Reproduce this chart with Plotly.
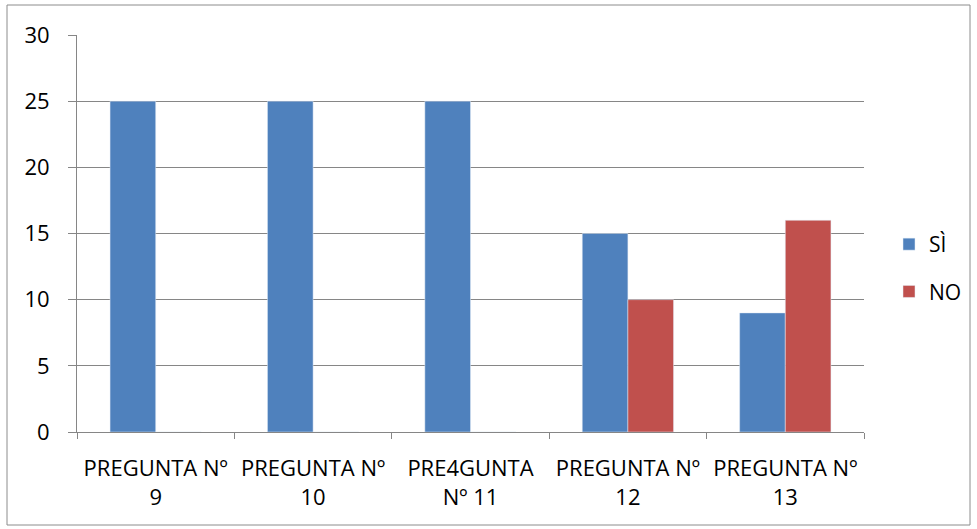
import plotly.graph_objects as go

categories = ["PREGUNTA Nº<br>9", "PREGUNTA Nº<br>10", "PRE4GUNTA<br>Nº 11", "PREGUNTA Nº<br>12", "PREGUNTA Nº<br>13"]
si_values = [25, 25, 25, 15, 9]
no_values = [0, 0, 0, 10, 16]
y_ticks = [0, 5, 10, 15, 20, 25, 30]

W, H = 977, 529
L, R, T, B = 77, 864, 35, 432

fig = go.Figure()
fig.add_trace(go.Bar(name="SÌ", x=categories, y=si_values, marker_color="#4F81BD", legendgroup="a"))
fig.add_trace(go.Bar(name="NO", x=categories, y=no_values, marker_color="#C0504D", legendgroup="b"))

pw, ph = R - L, B - T
def px(x): return (x - L) / pw
def py(y): return (B - y) / ph

fig.add_shape(type="rect", xref="paper", yref="paper",
              x0=px(7), x1=px(970), y0=py(525), y1=py(5),
              line=dict(color="#8C8C8C", width=1), layer="below")

fig.update_layout(
    width=W, height=H,
    margin=dict(l=L, r=W - R, t=T, b=H - B, autoexpand=False),
    paper_bgcolor="white", plot_bgcolor="white",
    barmode="group", bargap=0.42, bargroupgap=0,
    font=dict(family="Open Sans", size=22, color="#000000"),
    legend=dict(x=px(889), y=py(224), xanchor="left", yanchor="top",
                font=dict(size=21), tracegroupgap=17, itemwidth=30),
    showlegend=True,
)
fig.update_xaxes(showline=True, linecolor="#868686", linewidth=1,
                 ticks="outside", ticklen=6, tickcolor="#868686",
                 tickson="boundaries", mirror=False, fixedrange=True,
                 automargin=False, ticklabelstandoff=17)
fig.update_yaxes(range=[0, 30], tickvals=y_ticks, showgrid=True, gridcolor="#868686",
                 gridwidth=1, showline=True, linecolor="#868686", linewidth=1,
                 ticks="outside", ticklen=8, tickcolor="#868686", zeroline=False,
                 ticklabelstandoff=14, automargin=False)

fig.write_html("out.html", config={"displayModeBar": False},
               post_script="document.body.style.margin='0';document.body.style.overflow='hidden';")
